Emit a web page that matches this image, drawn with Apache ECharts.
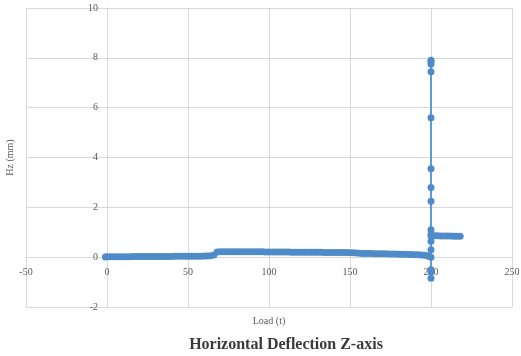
<!DOCTYPE html>
<html>
<head>
<meta charset="utf-8">
<script src="https://cdn.jsdelivr.net/npm/echarts@6/dist/echarts.min.js"></script>
<style>html,body{margin:0;padding:0;background:#fff}#c{width:521px;height:356px}</style>
</head>
<body>
<div id="c"></div>
<script>
const titleText = 'Horizontal Deflection Z-axis';
const xName = 'Load (t)';
const yName = 'Hz (mm)';
const xTicks = { min: -50, max: 250, interval: 50 };
const yTicks = { min: -2, max: 10, interval: 2 };

const loadValues = [
  -1, 0, 2, 4, 6, 8, 10, 12, 14, 16, 18, 20, 22, 24, 26, 28, 30, 32, 34, 36, 38, 40, 42, 44, 46, 48, 50, 52, 54, 56, 58, 60, 62, 64, 66,
  68, 70, 72, 74, 76, 78, 80, 82, 84, 86, 88, 90, 92, 94, 96, 98, 100, 102, 104, 106, 108, 110, 112, 114, 116, 118, 120, 122, 124, 126, 128, 130, 132, 134, 136, 138, 140, 142, 144, 146, 148, 150, 152, 154,
  156, 158, 160, 162, 164, 166, 168, 170, 172, 174, 176, 178, 180, 182, 184, 186, 188, 190, 192, 194, 196, 198, 199, 200,
  200, 200, 200, 200, 200, 200, 200, 200, 200, 200, 200, 200, 200, 200, 200,
  200, 201, 202, 204, 206, 208, 210, 212, 214, 216, 218
];
const hzValues = [
  0.01, 0.02, 0.02, 0.02, 0.02, 0.02, 0.02, 0.02, 0.02, 0.03, 0.03, 0.03, 0.03, 0.03, 0.03, 0.03, 0.03, 0.03, 0.03, 0.03, 0.03, 0.03, 0.04, 0.04, 0.04, 0.04, 0.04, 0.04, 0.04, 0.04, 0.04, 0.05, 0.05, 0.06, 0.09,
  0.21, 0.22, 0.22, 0.22, 0.22, 0.22, 0.22, 0.22, 0.22, 0.22, 0.22, 0.22, 0.22, 0.22, 0.22, 0.21, 0.21, 0.21, 0.21, 0.21, 0.21, 0.21, 0.21, 0.20, 0.20, 0.20, 0.20, 0.20, 0.20, 0.20, 0.20, 0.20, 0.20, 0.19, 0.19, 0.19, 0.19, 0.19, 0.19, 0.19, 0.19, 0.18, 0.18, 0.17,
  0.16, 0.15, 0.15, 0.15, 0.15, 0.14, 0.14, 0.14, 0.14, 0.13, 0.13, 0.13, 0.12, 0.12, 0.12, 0.11, 0.11, 0.10, 0.10, 0.09, 0.08, 0.06, 0.03, 0.00,
  -0.50, -0.85, -0.60, 0.30, 0.64, 0.90, 1.10, 2.24, 2.80, 3.55, 5.60, 7.44, 7.75, 7.85, 7.90,
  0.86, 0.87, 0.86, 0.86, 0.85, 0.85, 0.85, 0.85, 0.84, 0.84, 0.84
];

const data = loadValues.map((x, i) => [x, hzValues[i]]);
const gridColor = '#d9d9d9';
const labelColor = '#595959';
const font = 'Liberation Serif';

const gridLeft = 26, gridRight = 9, gridTop = 8, gridBottom = 49;
const plotW = 521 - gridLeft - gridRight;
const plotH = 356 - gridTop - gridBottom;
// place each axis where the other axis crosses zero (Excel style)
const xAxisOffset = -Math.round((0 - yTicks.min) / (yTicks.max - yTicks.min) * plotH);
const yAxisOffset = -Math.round((0 - xTicks.min) / (xTicks.max - xTicks.min) * plotW);

const chart = echarts.init(document.getElementById('c'));
chart.setOption({
  animation: false,
  textStyle: { fontFamily: font },
  title: {
    text: titleText,
    left: 281, top: 332, textAlign: 'center',
    textStyle: { fontFamily: font, fontSize: 16, fontWeight: 'bold', color: '#3a3a3a' }
  },
  grid: { left: gridLeft, right: gridRight, top: gridTop, bottom: gridBottom, containLabel: false, outerBoundsMode: 'none' },
  xAxis: {
    type: 'value', min: xTicks.min, max: xTicks.max, interval: xTicks.interval,
    position: 'bottom', offset: xAxisOffset,
    name: xName, nameLocation: 'middle', nameGap: 59,
    nameTextStyle: { fontFamily: font, fontSize: 10, color: labelColor },
    axisLine: { show: true, onZero: false, lineStyle: { color: gridColor, width: 1 } },
    axisTick: { show: false },
    axisLabel: { color: labelColor, fontFamily: font, fontSize: 10, margin: 10 },
    splitLine: { show: true, lineStyle: { color: gridColor, width: 1 } }
  },
  yAxis: {
    type: 'value', min: yTicks.min, max: yTicks.max, interval: yTicks.interval,
    position: 'left', offset: yAxisOffset,
    name: yName, nameLocation: 'middle', nameGap: 92, nameRotate: 90,
    nameTextStyle: { fontFamily: font, fontSize: 10, color: labelColor },
    axisLine: { show: true, onZero: false, lineStyle: { color: gridColor, width: 1 } },
    axisTick: { show: false },
    axisLabel: { color: labelColor, fontFamily: font, fontSize: 10, margin: 9 },
    splitLine: { show: true, lineStyle: { color: gridColor, width: 1 } }
  },
  series: [{
    type: 'line',
    data: data,
    symbol: 'circle',
    symbolSize: 7,
    showAllSymbol: true,
    lineStyle: { color: '#5b9bd5', width: 2 },
    itemStyle: { color: '#4f8bc9' },
    z: 3
  }]
});
</script>
</body>
</html>
